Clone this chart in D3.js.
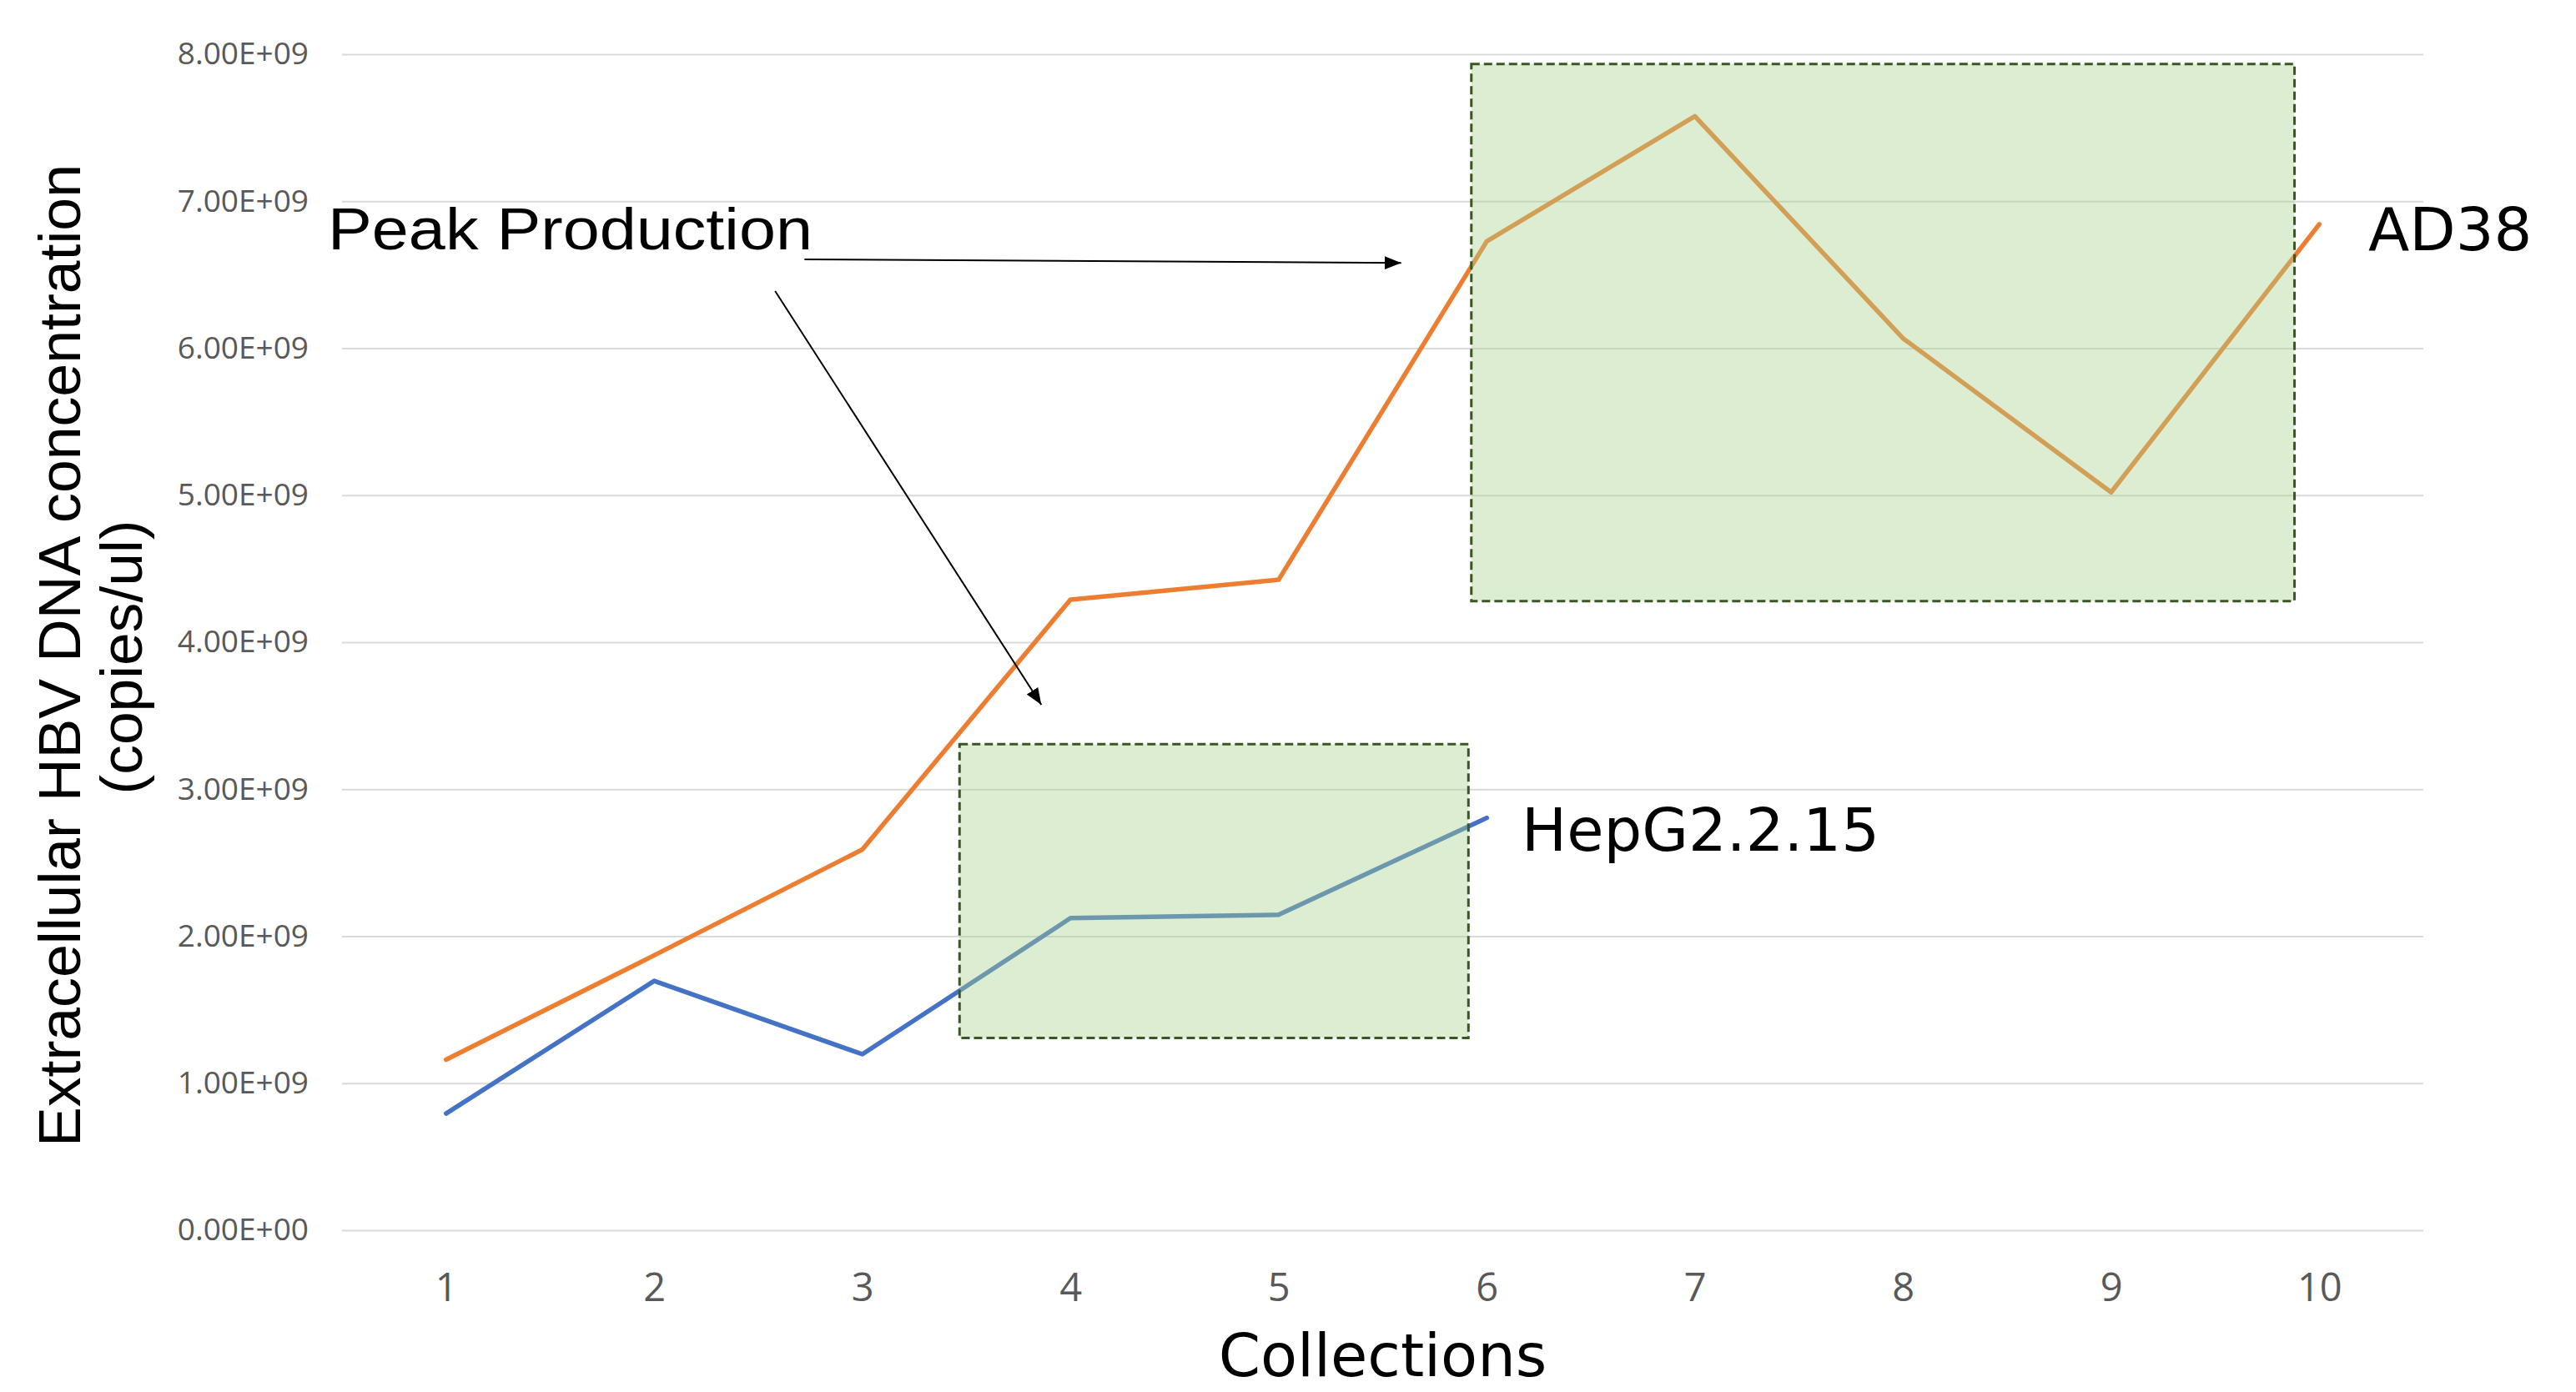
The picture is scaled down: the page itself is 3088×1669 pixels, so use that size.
<!DOCTYPE html>
<html>
<head>
<meta charset="utf-8">
<script src="https://cdn.jsdelivr.net/npm/d3@7/dist/d3.min.js"></script>
<style>
  body { margin: 0; background: #ffffff; }
</style>
</head>
<body>
<div id="canvas"></div>
<script>
var width = 3088;
var height = 1669;
var plot = { left: 410, right: 2905, top: 65, bottom: 1475 };

// data
var collections = ["1", "2", "3", "4", "5", "6", "7", "8", "9", "10"];
var ad38 = [1.16e9, 1.87e9, 2.59e9, 4.29e9, 4.425e9, 6.727e9, 7.578e9, 6.067e9, 5.02e9, 6.843e9];
var hepg2 = [0.794e9, 1.696e9, 1.197e9, 2.123e9, 2.146e9, 2.805e9];
var yTicks = [0, 1e9, 2e9, 3e9, 4e9, 5e9, 6e9, 7e9, 8e9];

// highlighted ranges (collection position, value)
var peakBoxes = [
    { x0: 5.926, x1: 9.881, y0: 4.28e9, y1: 7.934e9 },
    { x0: 3.467, x1: 5.912, y0: 1.308e9, y1: 3.306e9 }
];
var arrows = [
    { x0: 2.722, y0: 6.604e9, x1: 5.589, y1: 6.58e9 },
    { x0: 2.581, y0: 6.389e9, x1: 3.860, y1: 3.574e9 }
];

var svg = d3.select("#canvas")
    .append("svg")
    .attr("width", width)
    .attr("height", height)
    .style("background-color", "#ffffff");

var xScale = d3.scalePoint()
    .domain(collections)
    .range([plot.left, plot.right])
    .padding(0.5);

// same x positions, but allows fractions for boxes and arrows
var xPos = d3.scaleLinear()
    .domain([1, 10])
    .range([xScale("1"), xScale("10")]);

var yScale = d3.scaleLinear()
    .domain([0, 8e9])
    .range([plot.bottom, plot.top]);

function sciFormat(v) {
    var e = v === 0 ? 0 : Math.floor(Math.log10(v));
    var m = v / Math.pow(10, e);
    return m.toFixed(2) + "E+" + String(e).padStart(2, "0");
}

// gridlines + y labels
var yAxis = d3.axisLeft(yScale)
    .tickValues(yTicks)
    .tickFormat(sciFormat)
    .tickSize(-(plot.right - plot.left))
    .tickPadding(40);

var gy = svg.append("g")
    .attr("transform", `translate(${plot.left},0)`)
    .call(yAxis);
gy.select(".domain").remove();
gy.selectAll(".tick line")
    .attr("stroke", "#d9d9d9")
    .attr("stroke-width", 2);
gy.selectAll(".tick text")
    .attr("fill", "#595959")
    .style("font-family", "'Open Sans', sans-serif")
    .style("font-size", "37px");

// x labels
var xAxis = d3.axisBottom(xScale)
    .tickSize(0)
    .tickPadding(0);

var gx = svg.append("g")
    .attr("transform", `translate(0,${plot.bottom})`)
    .call(xAxis);
gx.select(".domain").remove();
gx.selectAll(".tick text")
    .attr("dy", null)
    .attr("y", 85)
    .attr("fill", "#595959")
    .style("font-family", "'Open Sans', sans-serif")
    .style("font-size", "47px");

// lines
var line = d3.line()
    .x((d, i) => xScale(collections[i]))
    .y(d => yScale(d));

svg.append("path")
    .datum(hepg2)
    .attr("d", line)
    .attr("fill", "none")
    .attr("stroke", "#4472c4")
    .attr("stroke-width", 5.5)
    .attr("stroke-linecap", "round")
    .attr("stroke-linejoin", "round");

svg.append("path")
    .datum(ad38)
    .attr("d", line)
    .attr("fill", "none")
    .attr("stroke", "#ed7d31")
    .attr("stroke-width", 5.5)
    .attr("stroke-linecap", "round")
    .attr("stroke-linejoin", "round");

// translucent highlight boxes on top
svg.selectAll(".peak")
    .data(peakBoxes)
    .enter()
    .append("rect")
    .attr("class", "peak")
    .attr("x", d => xPos(d.x0))
    .attr("y", d => yScale(d.y1))
    .attr("width", d => xPos(d.x1) - xPos(d.x0))
    .attr("height", d => yScale(d.y0) - yScale(d.y1))
    .attr("fill", "#a9d18e")
    .attr("fill-opacity", 0.4)
    .attr("stroke", "#385723")
    .attr("stroke-width", 3)
    .attr("stroke-dasharray", "10,5");

// arrows
svg.append("defs").append("marker")
    .attr("id", "head")
    .attr("viewBox", "0 0 10 10")
    .attr("refX", 10)
    .attr("refY", 5)
    .attr("markerWidth", 10)
    .attr("markerHeight", 10)
    .attr("markerUnits", "strokeWidth")
    .attr("orient", "auto")
    .append("path")
    .attr("d", "M0,1 L10,5 L0,9 Z")
    .attr("fill", "#000");

svg.selectAll(".arrow")
    .data(arrows)
    .enter()
    .append("line")
    .attr("class", "arrow")
    .attr("x1", d => xPos(d.x0))
    .attr("y1", d => yScale(d.y0))
    .attr("x2", d => xPos(d.x1))
    .attr("y2", d => yScale(d.y1))
    .attr("stroke", "#000")
    .attr("stroke-width", 2)
    .attr("marker-end", "url(#head)");

// texts
svg.append("text")
    .attr("x", 393)
    .attr("y", 299)
    .attr("textLength", 581)
    .attr("lengthAdjust", "spacingAndGlyphs")
    .style("font-family", "'Liberation Sans Narrow', 'Liberation Sans', sans-serif")
    .style("font-size", "71px")
    .attr("fill", "#000")
    .text("Peak Production");

svg.append("text")
    .attr("x", 2839)
    .attr("y", 300)
    .style("font-family", "'DejaVu Sans', sans-serif")
    .style("font-size", "72px")
    .attr("fill", "#000")
    .text("AD38");

svg.append("text")
    .attr("x", 1824)
    .attr("y", 1020)
    .style("font-family", "'DejaVu Sans', sans-serif")
    .style("font-size", "72px")
    .attr("fill", "#000")
    .text("HepG2.2.15");

svg.append("text")
    .attr("x", (plot.left + plot.right) / 2)
    .attr("y", 1650)
    .attr("text-anchor", "middle")
    .style("font-family", "'DejaVu Sans', sans-serif")
    .style("font-size", "72px")
    .attr("fill", "#000")
    .text("Collections");

svg.append("text")
    .attr("transform", "translate(96,786) rotate(-90)")
    .attr("text-anchor", "middle")
    .attr("textLength", 1178)
    .attr("lengthAdjust", "spacingAndGlyphs")
    .style("font-family", "'Liberation Sans Narrow', 'Liberation Sans', sans-serif")
    .style("font-size", "71px")
    .attr("fill", "#000")
    .text("Extracellular HBV DNA concentration");

svg.append("text")
    .attr("transform", "translate(170,788) rotate(-90)")
    .attr("text-anchor", "middle")
    .attr("textLength", 329)
    .attr("lengthAdjust", "spacingAndGlyphs")
    .style("font-family", "'Liberation Sans Narrow', 'Liberation Sans', sans-serif")
    .style("font-size", "71px")
    .attr("fill", "#000")
    .text("(copies/ul)");
</script>
</body>
</html>
